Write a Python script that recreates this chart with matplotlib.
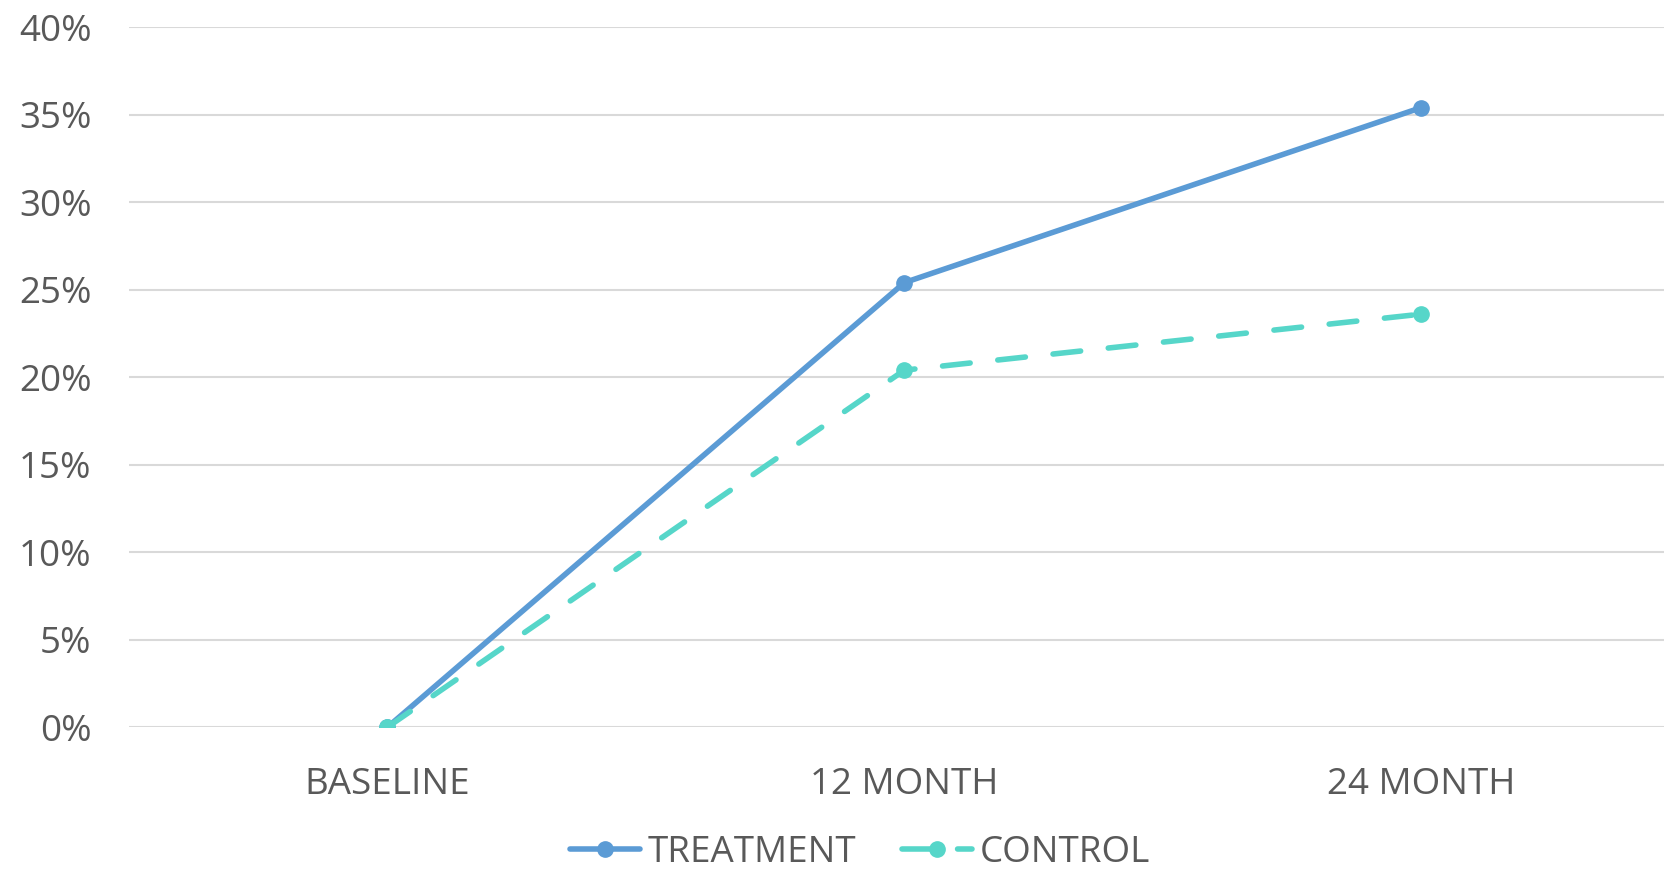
import matplotlib.pyplot as plt
from matplotlib.ticker import PercentFormatter

# Data
categories = ['BASELINE', '12 MONTH', '24 MONTH']
treatment = [0.0, 25.4, 35.4]
control = [0.0, 20.4, 23.6]
y_ticks = [0, 5, 10, 15, 20, 25, 30, 35, 40]

plt.rcParams['font.family'] = ['Open Sans', 'DejaVu Sans']
text_color = '#595959'

fig = plt.figure(figsize=(16.64, 8.73), dpi=100)
ax = fig.add_axes([0.0775, 0.167, 0.932, 0.802])

x = range(len(categories))
ax.plot(x, treatment, color='#5B9BD5', linewidth=4, marker='o', markersize=11,
        solid_capstyle='round', label='TREATMENT', zorder=3)
ax.plot(x, control, color='#56D6C9', linewidth=4, marker='o', markersize=11,
        linestyle=(0, (5, 5)), dash_capstyle='round', label='CONTROL', zorder=4)

ax.set_xlim(-0.5, 2.5)
ax.set_ylim(0, 40)
ax.set_yticks(y_ticks)
ax.yaxis.set_major_formatter(PercentFormatter(decimals=0))
ax.set_xticks(list(x))
ax.set_xticklabels(categories)

ax.grid(axis='y', color='#D9D9D9', linewidth=1.5)
ax.set_axisbelow(True)
for s in ax.spines.values():
    s.set_visible(False)
ax.tick_params(length=0, labelsize=26.5, colors=text_color)
ax.tick_params(axis='x', pad=29)
ax.tick_params(axis='y', pad=27)

leg = fig.legend(loc='lower center', bbox_to_anchor=(0.517, -0.036), ncol=2, frameon=False,
                 fontsize=26.5, handlelength=1.9, columnspacing=1.25, handletextpad=0.2)
for t in leg.get_texts():
    t.set_color(text_color)

fig.savefig('out.png', dpi=100)
